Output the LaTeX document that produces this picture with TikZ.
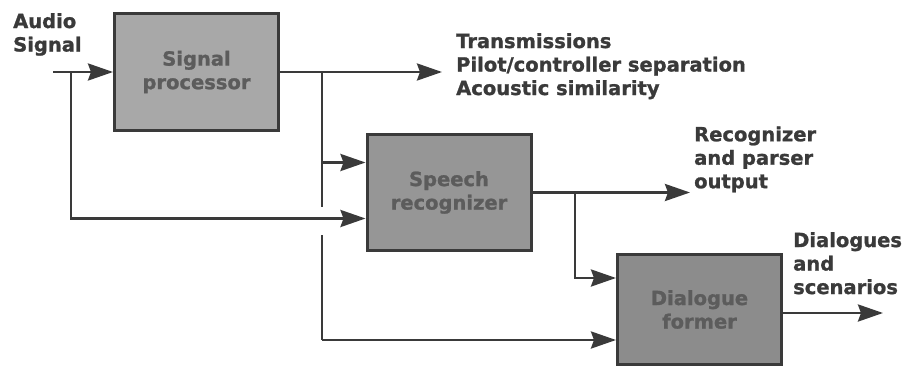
\documentclass[tikz,border=0pt]{standalone}
\usepackage{fontspec}
\setmainfont{DejaVu Sans}[BoldFeatures={FakeBold=1.2}]
\usetikzlibrary{positioning,arrows.meta,calc}
\definecolor{InkGray}{RGB}{58,58,58}
\definecolor{BoxLight}{RGB}{168,168,168}
\definecolor{BoxMid}{RGB}{150,150,150}
\definecolor{BoxDark}{RGB}{140,140,140}
\definecolor{BoxText}{RGB}{92,92,92}

\begin{document}
\begin{tikzpicture}[x=1pt, y=-1pt,
  every node/.style={font=\fontsize{19.5}{23.5}\selectfont\bfseries, align=left, inner sep=0pt},
  block/.style={draw=InkGray, line width=3pt, text=BoxText, align=center, minimum width=164pt, minimum height=116pt},
  wire/.style={InkGray, line width=2.8pt},
  flow/.style={wire, -{Stealth[length=25pt, width=17pt, inset=3pt]}},
  note/.style={text=InkGray, anchor=north west}]
  \useasboundingbox (0,0) rectangle (907,369);
  \node[note] (audio) at (13,13) {Audio\\Signal};
  \node[block, fill=BoxLight] (sp) at (196.5,72) {Signal\\processor};
  \node[block, fill=BoxMid] (sr) at (449,192.5) {Speech\\recognizer};
  \node[block, fill=BoxDark, minimum height=110pt] (df) at (699.5,309.5) {Dialogue\\former};
  % input and by-pass to the recognizer
  \coordinate (in) at (53,72);
  \coordinate (j1) at (71,72);
  \draw[flow] (in) -- (sp.west);
  \draw[flow] (j1) |- ([yshift=-26pt]sr.west);
  % signal processor output
  \coordinate (spend) at (442,72);
  \coordinate (j2) at (322,72);
  \coordinate (gapa) at (322,207);
  \coordinate (gapb) at (322,235);
  \coordinate (j3) at (322,340);
  \draw[flow] (sp.east) -- (spend);
  \draw[wire] (j2) -- (gapa);
  \draw[wire] (gapb) -- (j3);
  \draw[flow] ([yshift=30pt]sr.west -| j2) -- ([yshift=30pt]sr.west);
  \draw[flow] (j3) -- (j3 -| df.west);
  % recognizer output
  \coordinate (srend) at (690,192.5);
  \coordinate (j4) at (575,192.5);
  \draw[flow] (sr.east) -- (srend);
  \draw[flow] (j4) |- ([yshift=31.5pt]df.west);
  % dialogue former output
  \coordinate (dfend) at (883,313);
  \draw[flow] (df.east |- dfend) -- (dfend);
  \node[note] (trans) at (456,33) {Transmissions\\Pilot/controller separation\\Acoustic similarity};
  \node[note, right=4pt of srend, anchor=south west] (recog) {Recognizer\\and parser\\output};
  \node[note] (dial) at (793,232) {Dialogues\\and\\scenarios};
\end{tikzpicture}
\end{document}
